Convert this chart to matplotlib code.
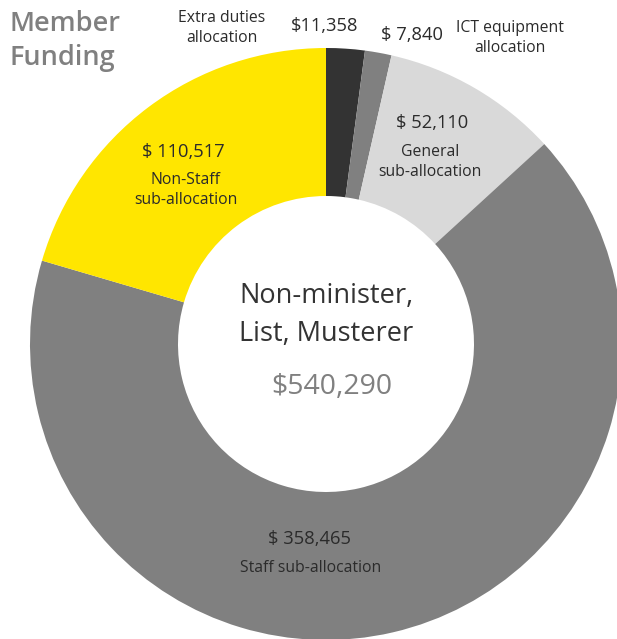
import matplotlib.pyplot as plt

# funding split, clockwise from 12 o'clock
segments = ["Extra duties allocation", "ICT equipment allocation", "General sub-allocation",
            "Staff sub-allocation", "Non-Staff sub-allocation"]
amounts = [11358, 7840, 52110, 358465, 110517]
colors = ["#333333", "#808080", "#d9d9d9", "#808080", "#ffe600"]
total = sum(amounts)

plt.rcParams['font.family'] = ['Open Sans', 'DejaVu Sans']

W, H = 617, 639
fig = plt.figure(figsize=(W / 100, H / 100), dpi=100)
ax = fig.add_axes([0, 0, 1, 1])

cx, cy = 326, H - 344
ax.pie(amounts, colors=colors, startangle=90, counterclock=False,
       center=(cx, cy), radius=296,
       wedgeprops=dict(width=148, linewidth=0))
ax.set_xlim(0, W)
ax.set_ylim(0, H)
ax.set_aspect('equal')
ax.axis('off')


def txt(x, y, s, size, color="#2b2b2b", **kw):
    ax.text(x, H - y, s, fontsize=size, color=color, ha='center', va='center', **kw)


# title
ax.text(10, H - 41, "Member\nFunding", fontsize=19.5, color="#808080", ha='left',
        va='center', fontweight='semibold', linespacing=1.32)

# segment labels
lab, val = 11.3, 13.2
txt(222, 28, "Extra duties\nallocation", lab, linespacing=1.3)
txt(325, 26, f"${amounts[0]:,}", val)
txt(412, 35, f"$ {amounts[1]:,}", val)
txt(510, 38, "ICT equipment\nallocation", lab, linespacing=1.3)
txt(432, 123, f"$ {amounts[2]:,}", val)
txt(430, 162, "General\nsub-allocation", lab, linespacing=1.3)
txt(183, 152, f"$ {amounts[4]:,}", val)
txt(186, 190, "Non-Staff\nsub-allocation", lab, linespacing=1.3)
txt(310, 539, f"$ {amounts[3]:,}", val)
txt(311, 568, "Staff sub-allocation", lab)

# centre of the ring
txt(326, 315, "Non-minister,\nList, Musterer", 19.5, color="#333333", linespacing=1.45)
txt(332, 387, f"${total:,}", 20.5, color="#808080")

fig.savefig("out.png", dpi=100)
